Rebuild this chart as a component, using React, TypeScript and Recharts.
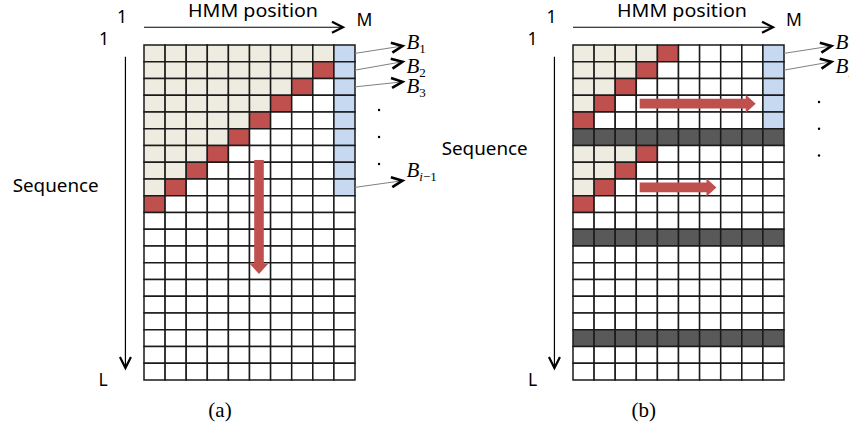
import React from 'react';
import { ComposedChart, XAxis, YAxis, ReferenceArea, ReferenceLine, ReferenceDot } from 'recharts';

const COLS = 10;
const ROWS = 20;

// c = cream (computed), r = red (current), w = empty, b = blue (boundary), d = dark (sequence break)
const gridA = [
  'cccccccccb',
  'ccccccccrb',
  'cccccccrwb',
  'ccccccrwwb',
  'cccccrwwwb',
  'ccccrwwwwb',
  'cccrwwwwwb',
  'ccrwwwwwwb',
  'crwwwwwwwb',
  'rwwwwwwwww',
  'wwwwwwwwww',
  'wwwwwwwwww',
  'wwwwwwwwww',
  'wwwwwwwwww',
  'wwwwwwwwww',
  'wwwwwwwwww',
  'wwwwwwwwww',
  'wwwwwwwwww',
  'wwwwwwwwww',
  'wwwwwwwwww',
];

const gridB = [
  'ccccrwwwwb',
  'cccrwwwwwb',
  'ccrwwwwwwb',
  'crwwwwwwwb',
  'rwwwwwwwwb',
  'dddddddddd',
  'cccrwwwwww',
  'ccrwwwwwww',
  'crwwwwwwww',
  'rwwwwwwwww',
  'wwwwwwwwww',
  'dddddddddd',
  'wwwwwwwwww',
  'wwwwwwwwww',
  'wwwwwwwwww',
  'wwwwwwwwww',
  'wwwwwwwwww',
  'dddddddddd',
  'wwwwwwwwww',
  'wwwwwwwwww',
];

const cellColors: Record<string, string> = {
  c: '#eeece1',
  r: '#c0504d',
  w: '#ffffff',
  b: '#c6d9f1',
  d: '#595959',
};

// red block arrows, in cell units [col, row]
const arrowsA = [{ from: [5.45, 6.87], to: [5.45, 13.67] }];
const arrowsB = [
  { from: [3.16, 3.5], to: [8.66, 3.5] },
  { from: [3.16, 8.5], to: [6.8, 8.5] },
];

// B labels: subscript and the row whose boundary score is passed on
const bSubsA = ['1', '2', '3', 'i-1'];
const bRowsA = [0, 1, 2, 8];
const bTipRowsA = [0.06, 1.0, 2.2, 8.1];
const bSubsB = ['1', '2'];
const bRowsB = [0, 1];
const bTipRowsB = [0.06, 1.0];

const dotRowsA = [3.88, 5.49, 7.1];
const dotRowsB = [3.4, 5.0, 6.6];

const RED = '#c0504d';

const unit = (x1: number, y1: number, x2: number, y2: number) => {
  const dx = x2 - x1;
  const dy = y2 - y1;
  const len = Math.hypot(dx, dy) || 1;
  return { ux: dx / len, uy: dy / len, len };
};

const chevron = (x: number, y: number, ux: number, uy: number, back: number, half: number) => {
  const nx = -uy;
  const ny = ux;
  const bx = x - ux * back;
  const by = y - uy * back;
  return `${bx + nx * half},${by + ny * half} ${x},${y} ${bx - nx * half},${by - ny * half}`;
};

const AxisArrow = (p: any) => {
  const { x1, y1, x2, y2 } = p;
  const { ux, uy } = unit(x1, y1, x2, y2);
  return (
    <g>
      <line x1={x1} y1={y1} x2={x2} y2={y2} stroke="#000" strokeWidth={1.2} />
      <polyline points={chevron(x2, y2, ux, uy, 11, 5.5)} fill="none" stroke="#000" strokeWidth={2.2} />
    </g>
  );
};

const BlockArrow = (p: any) => {
  const { x1, y1, x2, y2 } = p;
  const { ux, uy, len } = unit(x1, y1, x2, y2);
  const nx = -uy;
  const ny = ux;
  const shaft = 4.8;
  const head = 9;
  const headLen = 10;
  const bx = x1 + ux * (len - headLen);
  const by = y1 + uy * (len - headLen);
  const pts = [
    [x1 + nx * shaft, y1 + ny * shaft],
    [bx + nx * shaft, by + ny * shaft],
    [bx + nx * head, by + ny * head],
    [x2, y2],
    [bx - nx * head, by - ny * head],
    [bx - nx * shaft, by - ny * shaft],
    [x1 - nx * shaft, y1 - ny * shaft],
  ]
    .map((q) => q.join(','))
    .join(' ');
  return <polygon points={pts} fill={RED} stroke="none" />;
};

const makeBArrow = (sub: string, textDy: number) => (p: any) => {
  const { x1, y1, x2, y2 } = p;
  const { ux, uy } = unit(x1, y1, x2, y2);
  const isI = sub.startsWith('i');
  return (
    <g>
      <line x1={x1} y1={y1} x2={x2 - ux * 3} y2={y2 - uy * 3} stroke="#808080" strokeWidth={1} />
      <polyline points={chevron(x2, y2, ux, uy, 11, 5)} fill="none" stroke="#000" strokeWidth={2.6} />
      <text
        x={x2 + 4}
        y={y2 + textDy}
        fontFamily="'Liberation Serif', serif"
        fontStyle="italic"
        fontSize={21}
        fill="#000"
      >
        B
        {isI ? (
          <>
            <tspan fontSize={13} dy={4}>i</tspan>
            <tspan fontSize={13} fontStyle="normal">{'\u22121'}</tspan>
          </>
        ) : (
          <tspan fontSize={13} fontStyle="normal" dy={4}>{sub}</tspan>
        )}
      </text>
    </g>
  );
};

const textDyA = [2.5, 11, 11, -4];
const textDyB = [2.5, 11];

interface PanelProps {
  grid: string[];
  arrows: { from: number[]; to: number[] }[];
  bSubs: string[];
  bRows: number[];
  bTipRows: number[];
  textDy: number[];
  dotRows: number[];
  dotCol: number;
  hArrowEnd: number;
  left: number;
  right: number;
  width: number;
}

const Panel: React.FC<PanelProps> = ({
  grid, arrows, bSubs, bRows, bTipRows, textDy, dotRows, dotCol, hArrowEnd, left, right, width,
}) => {
  const cells: { col: number; row: number; code: string }[] = [];
  grid.forEach((line, row) => {
    line.split('').forEach((code, col) => cells.push({ col, row, code }));
  });
  return (
    <ComposedChart width={width} height={429} margin={{ top: 45, right, bottom: 49, left }}>
      <XAxis type="number" dataKey="x" domain={[0, COLS]} hide allowDataOverflow />
      <YAxis type="number" dataKey="y" domain={[0, ROWS]} reversed hide allowDataOverflow />
      {cells.map((c) => (
        <ReferenceArea
          key={`${c.col}-${c.row}`}
          x1={c.col}
          x2={c.col + 1}
          y1={c.row}
          y2={c.row + 1}
          fill={cellColors[c.code]}
          fillOpacity={1}
          stroke="#1a1a1a"
          strokeWidth={1.5}
          ifOverflow="visible"
        />
      ))}
      {arrows.map((a, i) => (
        <ReferenceLine
          key={`arr-${i}`}
          segment={[{ x: a.from[0], y: a.from[1] }, { x: a.to[0], y: a.to[1] }]}
          ifOverflow="visible"
          shape={BlockArrow}
        />
      ))}
      <ReferenceLine
        segment={[{ x: 0, y: -1.06 }, { x: hArrowEnd, y: -1.06 }]}
        ifOverflow="visible"
        shape={AxisArrow}
      />
      <ReferenceLine
        segment={[{ x: -0.88, y: 0.7 }, { x: -0.88, y: 19.28 }]}
        ifOverflow="visible"
        shape={AxisArrow}
      />
      {bSubs.map((s, i) => (
        <ReferenceLine
          key={`b-${i}`}
          segment={[{ x: COLS, y: bRows[i] + 0.5 }, { x: 12.25, y: bTipRows[i] }]}
          ifOverflow="visible"
          shape={makeBArrow(s, textDy[i])}
        />
      ))}
      {dotRows.map((r, i) => (
        <ReferenceDot key={`d-${i}`} x={dotCol} y={r} r={1.2} fill="#000" stroke="none" ifOverflow="visible" />
      ))}
    </ComposedChart>
  );
};

const sans = "'Noto Sans', sans-serif";
const serif = "'Liberation Serif', serif";

export default function App() {
  return (
    <div style={{ position: 'absolute', left: 0, top: 0, width: 849, height: 429, background: '#fff', overflow: 'hidden' }}>
      <div style={{ position: 'absolute', left: 0, top: 0 }}>
        <Panel
          grid={gridA}
          arrows={arrowsA}
          bSubs={bSubsA}
          bRows={bRowsA}
          bTipRows={bTipRowsA}
          textDy={textDyA}
          dotRows={dotRowsA}
          dotCol={11.14}
          hArrowEnd={9.43}
          left={144}
          right={95}
          width={450}
        />
      </div>
      <div style={{ position: 'absolute', left: 424, top: 0 }}>
        <Panel
          grid={gridB}
          arrows={arrowsB}
          bSubs={bSubsB}
          bRows={bRowsB}
          bTipRows={bTipRowsB}
          textDy={textDyB}
          dotRows={dotRowsB}
          dotCol={11.66}
          hArrowEnd={9.48}
          left={149}
          right={91}
          width={451}
        />
      </div>
      <svg
        width={849}
        height={429}
        style={{ position: 'absolute', left: 0, top: 0, pointerEvents: 'none' }}
      >
        <g fontFamily={sans} fontSize={17.5} fill="#000">
          <text x={188} y={17} textLength={130} lengthAdjust="spacingAndGlyphs">HMM position</text>
          <text x={617} y={17} textLength={130} lengthAdjust="spacingAndGlyphs">HMM position</text>
          <text x={122} y={23} textAnchor="middle">1</text>
          <text x={551.5} y={23} textAnchor="middle">1</text>
          <text x={364.5} y={26} textAnchor="middle">M</text>
          <text x={794} y={26} textAnchor="middle">M</text>
          <text x={104} y={45} textAnchor="middle">1</text>
          <text x={532.5} y={45} textAnchor="middle">1</text>
          <text x={12.7} y={192} textLength={86} lengthAdjust="spacingAndGlyphs">Sequence</text>
          <text x={441.7} y={155} textLength={86} lengthAdjust="spacingAndGlyphs">Sequence</text>
          <text x={103} y={386} textAnchor="middle">L</text>
          <text x={532.5} y={386} textAnchor="middle">L</text>
        </g>
        <g fontFamily={serif} fontSize={21} fill="#000">
          <text x={220} y={417} textAnchor="middle">(a)</text>
          <text x={643.7} y={417} textAnchor="middle">(b)</text>
        </g>
      </svg>
    </div>
  );
}
